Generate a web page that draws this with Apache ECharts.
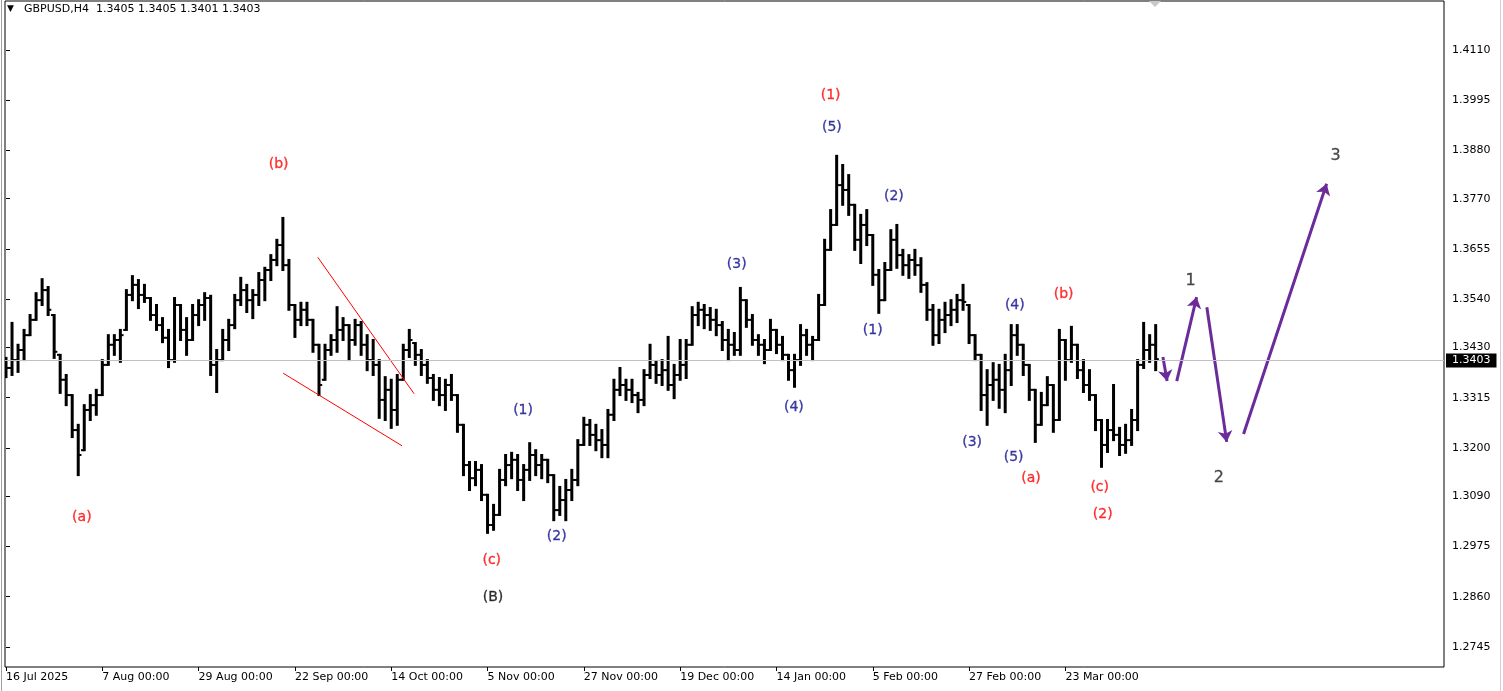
<!DOCTYPE html>
<html><head><meta charset="utf-8">
<script src="https://cdn.jsdelivr.net/npm/echarts@6/dist/echarts.min.js"></script>
<style>html,body{margin:0;padding:0;background:#fff}#c{width:1503px;height:691px}</style>
</head><body><div id="c"></div><script>
// ---- DATA ----
// daily bars: [open, close, low, high]
const dailyBars = [
[1.3390,1.3383,1.3362,1.3406],[1.3383,1.3401,1.3367,1.3486],[1.3401,1.3424,1.3374,1.3436],[1.3424,1.3458,1.3401,1.3470],
[1.3458,1.3493,1.3458,1.3504],[1.3493,1.3538,1.3493,1.3554],[1.3538,1.3561,1.3527,1.3586],[1.3561,1.3516,1.3504,1.3568],
[1.3504,1.3420,1.3406,1.3504],[1.3413,1.3356,1.3326,1.3413],[1.3356,1.3321,1.3298,1.3367],[1.3321,1.3241,1.3225,1.3321],
[1.3241,1.3184,1.3138,1.3253],[1.3195,1.3287,1.3195,1.3298],[1.3287,1.3298,1.3264,1.3321],[1.3298,1.3321,1.3276,1.3333],
[1.3321,1.3390,1.3321,1.3401],[1.3390,1.3436,1.3390,1.3458],[1.3436,1.3447,1.3413,1.3458],[1.3447,1.3458,1.3397,1.3470],
[1.3470,1.3550,1.3470,1.3561],[1.3550,1.3573,1.3538,1.3593],[1.3573,1.3550,1.3520,1.3584],[1.3550,1.3543,1.3534,1.3573],
[1.3543,1.3504,1.3493,1.3543],[1.3504,1.3481,1.3470,1.3527],[1.3481,1.3452,1.3442,1.3497],[1.3452,1.3401,1.3385,1.3470],
[1.3401,1.3527,1.3397,1.3543],[1.3527,1.3470,1.3447,1.3527],[1.3470,1.3447,1.3413,1.3497],[1.3447,1.3504,1.3447,1.3527],
[1.3504,1.3527,1.3481,1.3538],[1.3527,1.3543,1.3493,1.3554],[1.3543,1.3390,1.3367,1.3548],[1.3390,1.3401,1.3328,1.3424],
[1.3401,1.3447,1.3401,1.3470],[1.3447,1.3481,1.3424,1.3493],[1.3481,1.3538,1.3474,1.3550],[1.3538,1.3561,1.3527,1.3589],
[1.3561,1.3538,1.3511,1.3573],[1.3538,1.3550,1.3497,1.3561],[1.3550,1.3584,1.3527,1.3600],[1.3584,1.3607,1.3538,1.3612],
[1.3607,1.3630,1.3584,1.3641],[1.3630,1.3664,1.3618,1.3676],[1.3664,1.3618,1.3607,1.3726],[1.3618,1.3527,1.3516,1.3630],
[1.3527,1.3493,1.3454,1.3527],[1.3493,1.3516,1.3481,1.3532],[1.3516,1.3493,1.3481,1.3532],[1.3493,1.3436,1.3420,1.3493],
[1.3436,1.3344,1.3321,1.3436],[1.3356,1.3424,1.3356,1.3436],[1.3424,1.3447,1.3413,1.3458],[1.3447,1.3470,1.3420,1.3522],
[1.3470,1.3481,1.3447,1.3497],[1.3481,1.3447,1.3401,1.3481],[1.3447,1.3481,1.3436,1.3493],[1.3481,1.3436,1.3413,1.3488],
[1.3436,1.3401,1.3378,1.3458],[1.3401,1.3390,1.3367,1.3447],[1.3390,1.3310,1.3269,1.3401],[1.3310,1.3333,1.3264,1.3362],
[1.3333,1.3287,1.3246,1.3356],[1.3287,1.3356,1.3253,1.3367],[1.3356,1.3424,1.3356,1.3436],[1.3424,1.3447,1.3408,1.3470],
[1.3440,1.3413,1.3390,1.3440],[1.3413,1.3390,1.3367,1.3424],[1.3390,1.3360,1.3349,1.3401],[1.3360,1.3333,1.3310,1.3367],
[1.3333,1.3321,1.3298,1.3360],[1.3321,1.3344,1.3287,1.3356],[1.3344,1.3321,1.3310,1.3367],[1.3321,1.3253,1.3237,1.3321],
[1.3253,1.3161,1.3138,1.3253],[1.3161,1.3131,1.3104,1.3168],[1.3131,1.3150,1.3115,1.3168],[1.3150,1.3093,1.3081,1.3161],
[1.3093,1.3024,1.3006,1.3093],[1.3024,1.3047,1.3013,1.3070],[1.3047,1.3127,1.3047,1.3150],[1.3127,1.3161,1.3115,1.3184],
[1.3161,1.3173,1.3131,1.3189],[1.3173,1.3127,1.3104,1.3184],[1.3127,1.3150,1.3081,1.3161],[1.3150,1.3184,1.3127,1.3211],
[1.3184,1.3161,1.3138,1.3195],[1.3161,1.3173,1.3131,1.3184],[1.3173,1.3138,1.3122,1.3173],[1.3138,1.3058,1.3035,1.3138],
[1.3058,1.3081,1.3047,1.3111],[1.3081,1.3104,1.3035,1.3127],[1.3104,1.3127,1.3081,1.3150],[1.3127,1.3207,1.3115,1.3218],
[1.3207,1.3253,1.3207,1.3269],[1.3253,1.3230,1.3207,1.3264],[1.3230,1.3218,1.3195,1.3253],[1.3218,1.3207,1.3179,1.3241],
[1.3207,1.3276,1.3179,1.3287],[1.3276,1.3333,1.3264,1.3356],[1.3333,1.3344,1.3321,1.3383],[1.3344,1.3333,1.3310,1.3356],
[1.3333,1.3321,1.3305,1.3356],[1.3321,1.3310,1.3282,1.3326],[1.3310,1.3367,1.3298,1.3378],[1.3367,1.3390,1.3360,1.3436],
[1.3390,1.3367,1.3349,1.3397],[1.3367,1.3378,1.3344,1.3401],[1.3378,1.3344,1.3333,1.3454],[1.3344,1.3367,1.3314,1.3390],
[1.3367,1.3390,1.3356,1.3447],[1.3390,1.3436,1.3360,1.3447],[1.3436,1.3504,1.3436,1.3522],[1.3504,1.3516,1.3481,1.3532],
[1.3516,1.3504,1.3474,1.3527],[1.3504,1.3493,1.3470,1.3520],[1.3493,1.3481,1.3458,1.3516],[1.3481,1.3447,1.3424,1.3488],
[1.3447,1.3436,1.3401,1.3470],[1.3436,1.3424,1.3413,1.3463],[1.3424,1.3538,1.3413,1.3566],[1.3538,1.3493,1.3477,1.3538],
[1.3493,1.3447,1.3436,1.3504],[1.3447,1.3436,1.3413,1.3458],[1.3436,1.3424,1.3394,1.3447],[1.3424,1.3470,1.3424,1.3493],
[1.3470,1.3436,1.3417,1.3470],[1.3436,1.3413,1.3401,1.3454],[1.3413,1.3378,1.3356,1.3413],[1.3378,1.3401,1.3340,1.3413],
[1.3401,1.3458,1.3390,1.3481],[1.3458,1.3436,1.3413,1.3470],[1.3436,1.3447,1.3401,1.3454],[1.3447,1.3527,1.3447,1.3550],
[1.3527,1.3653,1.3527,1.3676],[1.3653,1.3710,1.3653,1.3744],[1.3710,1.3801,1.3710,1.3868],[1.3801,1.3790,1.3756,1.3847],
[1.3790,1.3756,1.3733,1.3824],[1.3756,1.3676,1.3653,1.3756],[1.3676,1.3710,1.3623,1.3733],[1.3710,1.3687,1.3664,1.3744],
[1.3687,1.3596,1.3573,1.3687],[1.3596,1.3538,1.3509,1.3607],[1.3538,1.3607,1.3538,1.3623],[1.3607,1.3676,1.3607,1.3698],
[1.3676,1.3641,1.3612,1.3710],[1.3641,1.3618,1.3596,1.3653],[1.3618,1.3630,1.3589,1.3641],[1.3630,1.3618,1.3596,1.3653],
[1.3618,1.3573,1.3557,1.3634],[1.3573,1.3516,1.3493,1.3577],[1.3516,1.3458,1.3436,1.3527],[1.3458,1.3493,1.3440,1.3516],
[1.3493,1.3504,1.3465,1.3532],[1.3504,1.3516,1.3481,1.3538],[1.3516,1.3538,1.3488,1.3550],[1.3538,1.3534,1.3516,1.3573],
[1.3527,1.3458,1.3440,1.3527],[1.3458,1.3413,1.3401,1.3458],[1.3413,1.3321,1.3287,1.3413],[1.3321,1.3344,1.3253,1.3378],
[1.3344,1.3356,1.3310,1.3394],[1.3356,1.3333,1.3292,1.3390],[1.3333,1.3378,1.3282,1.3413],[1.3378,1.3458,1.3344,1.3481],
[1.3458,1.3436,1.3413,1.3481],[1.3436,1.3390,1.3367,1.3436],[1.3390,1.3333,1.3310,1.3390],[1.3333,1.3253,1.3214,1.3333],
[1.3253,1.3298,1.3253,1.3326],[1.3298,1.3344,1.3298,1.3362],[1.3344,1.3264,1.3237,1.3344],[1.3264,1.3447,1.3264,1.3470],
[1.3447,1.3401,1.3356,1.3447],[1.3401,1.3436,1.3397,1.3477],[1.3436,1.3378,1.3360,1.3436],[1.3378,1.3344,1.3328,1.3401],
[1.3344,1.3321,1.3310,1.3378],[1.3321,1.3264,1.3241,1.3321],[1.3264,1.3207,1.3157,1.3264],[1.3207,1.3241,1.3191,1.3264],
[1.3241,1.3230,1.3218,1.3344],[1.3230,1.3207,1.3184,1.3246],[1.3207,1.3218,1.3189,1.3253],[1.3218,1.3264,1.3207,1.3287],
[1.3264,1.3390,1.3241,1.3401],[1.3390,1.3424,1.3383,1.3486],[1.3424,1.3436,1.3397,1.3458],[1.3436,1.3403,1.3378,1.3481]
];
const symbolName = 'GBPUSD,H4';
const lastBar = [1.3405, 1.3405, 1.3401, 1.3403]; // O H L C of last H4 bar
const lastPrice = 1.3403;
const xTickDays = [0,16,32,48,64,80,96,112,128,144,160,176];
const xTickLabels = ['16 Jul 2025','7 Aug 00:00','29 Aug 00:00','22 Sep 00:00','14 Oct 00:00','5 Nov 00:00','27 Nov 00:00','19 Dec 00:00','14 Jan 00:00','5 Feb 00:00','27 Feb 00:00','23 Mar 00:00'];
const yTickValues = [1.2745,1.2860,1.2975,1.3090,1.3200,1.3315,1.3430,1.3540,1.3655,1.3770,1.3880,1.3995,1.4110];
// wave labels: [day, price, text]
const redWaves = [[12.6,1.3042,'(a)'],[45.3,1.3849,'(b)'],[80.7,1.2944,'(c)'],[137.0,1.4007,'(1)'],[170.3,1.3131,'(a)'],[175.7,1.3552,'(b)'],[181.7,1.3111,'(c)'],[182.2,1.3049,'(2)']];
const blueWaves = [[85.9,1.3285,'(1)'],[91.5,1.2997,'(2)'],[121.4,1.3621,'(3)'],[130.9,1.3294,'(4)'],[137.2,1.3934,'(5)'],[147.5,1.3776,'(2)'],[144.0,1.3468,'(1)'],[160.5,1.3214,'(3)'],[167.6,1.3525,'(4)'],[167.4,1.3179,'(5)']];
const blackWaves = [[80.9,1.2859,'(B)']];
const projWaves = [[196.8,1.3582,'1'],[201.5,1.3131,'2'],[220.9,1.3868,'3']];
// wedge trend lines: [[day, price],[day, price]]
const trendLines = [[[51.8,1.3636],[67.8,1.3324]],[[46.05,1.3371],[65.8,1.3205]]];
// projected path arrows
const arrowPaths = [[[192.2,1.3408],[192.9,1.3353]],[[194.5,1.3353],[197.8,1.3545]],[[199.5,1.3522],[202.8,1.3214]],[[205.6,1.3232],[219.4,1.3804]]];

// ---- CHART ----
const FONT = 'DejaVu Sans';
const chart = echarts.init(document.getElementById('c'), null, {renderer:'canvas'});
const barData = dailyBars.map((b,i)=>[i,b[0],b[1],b[2],b[3]]);
function labelSeries(arr, color, size){
  return {type:'scatter', symbolSize:0, z:5, silent:true,
    data: arr.map(a=>[a[0],a[1],a[2]]),
    label:{show:true, position:'inside', formatter:p=>p.value[2], color:color, fontFamily:FONT, fontSize:size,
      textBorderColor:color, textBorderWidth:0.3}};
}
const option = {
  animation:false,
  backgroundColor:'#ffffff',
  grid:{left:5, right:59, top:1, bottom:24, show:true, borderColor:'#000', borderWidth:1, backgroundColor:'#fff'},
  xAxis:{type:'value', min:-0.166, max:238.9, splitLine:{show:false},
    axisLine:{show:false},
    axisTick:{show:true, customValues:xTickDays, length:4, lineStyle:{color:'#000'}},
    axisLabel:{customValues:xTickDays, formatter:v=>xTickLabels[xTickDays.indexOf(Math.round(v))]||'', align:'left', margin:5, color:'#000', fontFamily:FONT, fontSize:11}},
  yAxis:{type:'value', position:'right', min:1.26993, max:1.42220, splitLine:{show:false},
    axisLine:{show:false},
    axisTick:{show:true, customValues:yTickValues, length:4, lineStyle:{color:'#000'}},
    axisLabel:{customValues:yTickValues, formatter:v=>v.toFixed(4), margin:8, color:'#000', fontFamily:FONT, fontSize:11}},
  graphic:[
    {type:'text', left:7, top:4, style:{text:'▼', fontSize:9, fill:'#000', fontFamily:FONT}},
    {type:'text', left:24, top:4, style:{text: symbolName+'  '+lastBar.map(v=>v.toFixed(4)).join(' '), fontSize:11, fill:'#000', fontFamily:FONT}},
    {type:'polygon', shape:{points:[[1149,1],[1161,1],[1155,7]]}, style:{fill:'#c8c8c8'}},
    {type:'line', shape:{x1:1.5,y1:0,x2:1.5,y2:691}, style:{stroke:'#a0a0a0', lineWidth:1}},
    {type:'line', shape:{x1:1500.5,y1:0,x2:1500.5,y2:691}, style:{stroke:'#d0d0d0', lineWidth:1}}
  ],
  series:[
    {type:'line', data:[], z:1, silent:true,
      markLine:{symbol:'none', silent:true, animation:false,
        data:[{yAxis:lastPrice}],
        lineStyle:{color:'#c0c0c0', width:1, type:'solid'},
        label:{show:true, position:'end', distance:2, formatter:()=>lastPrice.toFixed(4), backgroundColor:'#000', color:'#fff', padding:[2,6,1,6], fontFamily:FONT, fontSize:11}}},
    {type:'custom', z:2, silent:true, clip:true, data:barData,
      renderItem:function(params, api){
        const x=api.value(0), o=api.value(1), c=api.value(2), l=api.value(3), h=api.value(4);
        const pH=api.coord([x,h]), pL=api.coord([x,l]), pO=api.coord([x,o]), pC=api.coord([x,c]);
        const st={stroke:'#000', lineWidth:2};
        return {type:'group', children:[
          {type:'line', shape:{x1:pH[0],y1:pH[1]-1,x2:pL[0],y2:pL[1]+1}, style:{stroke:'#000', lineWidth:3}},
          {type:'line', shape:{x1:pO[0]-3.2,y1:pO[1],x2:pO[0],y2:pO[1]}, style:st},
          {type:'line', shape:{x1:pC[0],y1:pC[1],x2:pC[0]+3.2,y2:pC[1]}, style:st}
        ]};
      }},
    {type:'lines', coordinateSystem:'cartesian2d', z:3, silent:true, polyline:false,
      data: trendLines.map(t=>({coords:t})), lineStyle:{color:'#ff0000', width:1, opacity:1}},
    {type:'lines', coordinateSystem:'cartesian2d', z:4, silent:true,
      symbol:['none','arrow'], symbolSize:[0,11],
      data: arrowPaths.map(t=>({coords:t})), lineStyle:{color:'#6b2c9a', width:3, opacity:1}},
    labelSeries(redWaves,'#ff0000',14),
    labelSeries(blueWaves,'#0d0d8c',14),
    labelSeries(blackWaves,'#000000',14),
    labelSeries(projWaves,'#222222',16)
  ]
};
chart.setOption(option);
</script></body></html>
